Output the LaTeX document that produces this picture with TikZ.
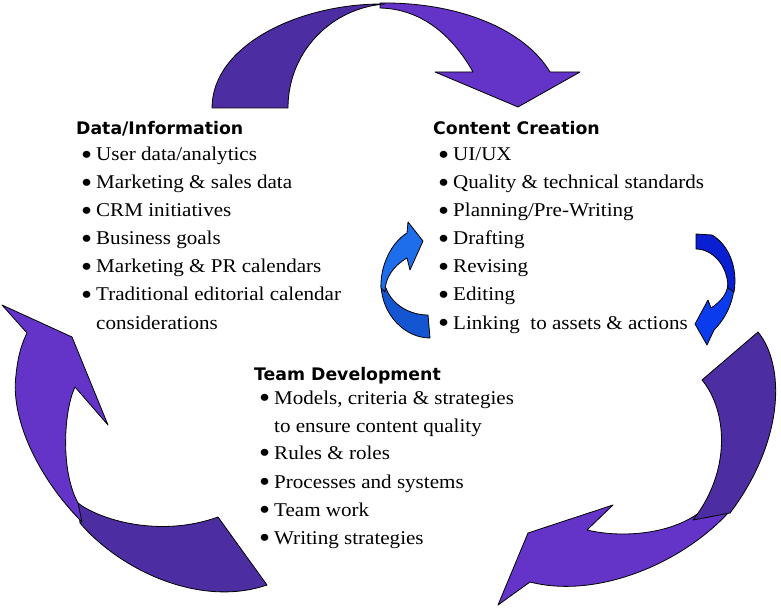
\documentclass[tikz,border=0pt]{standalone}
\usepackage{fontspec}
\setmainfont{Liberation Serif}[FakeStretch=1.08]
\newfontfamily\titlefont{DejaVu Sans}
\definecolor{purpleA}{HTML}{6434C8}
\definecolor{purpleB}{HTML}{4D2DA2}
\definecolor{blueA}{HTML}{1E6EEB}
\definecolor{blueB}{HTML}{1456D2}
\definecolor{blueC}{HTML}{0A1ED2}
\definecolor{blueD}{HTML}{0A3CEE}
\newcommand\bulbox{\makebox[15pt][l]{\raisebox{-3.3pt}{\scalebox{1.5}{\textbullet}}}}
\tikzset{
  bodytext/.style={anchor=base west, inner sep=0pt, font=\fontsize{19.5}{22}\selectfont},
  titletext/.style={anchor=base west, inner sep=0pt, font=\titlefont\bfseries\fontsize{17.3}{20}\selectfont},
  arrowpart/.style={draw=black, line width=0.8pt, line join=round}
}
\begin{document}
\begin{tikzpicture}[x=1pt,y=-1pt]
\useasboundingbox (0,0) rectangle (781,609);
% ---------- top arrow ----------
\fill[purpleA, arrowpart] (380,3) .. controls (460,2) and (525,30) .. (550,72) -- (580,72) -- (518,107) -- (435,72) -- (473,72) .. controls (455,40) and (425,9) .. (380,8) -- cycle;
\fill[purpleB, arrowpart] (212,108) .. controls (212,45) and (300,3) .. (385,4) .. controls (331,8) and (288,52) .. (288,108) -- cycle;
% ---------- left arrow ----------
\fill[purpleB, arrowpart] (78,503) .. controls (100,520) and (160,538) .. (218,517) -- (267,585) .. controls (200,608) and (120,570) .. (80,523) -- cycle;
\fill[purpleA, arrowpart] (27,333) -- (2,305) -- (72,337) -- (108,425) -- (75,387) .. controls (64,410) and (60,470) .. (78,503) -- (82,522) .. controls (40,480) and (10,420) .. (16,375) .. controls (18,355) and (22,343) .. cycle;
% ---------- right arrow ----------
\fill[purpleA, arrowpart] (498,605) -- (528,533) -- (613,505) -- (587,530) .. controls (620,538) and (670,535) .. (700,512) -- (735,505) .. controls (690,560) and (600,600) .. (530,582) -- cycle;
\fill[purpleB, arrowpart] (702,380) -- (758,332) .. controls (785,365) and (785,440) .. (730,513) -- (693,520) .. controls (732,470) and (727,410) .. cycle;
% ---------- small left arrow ----------
\fill[blueB, arrowpart] (381,285) .. controls (382,315) and (405,338) .. (430,338) -- (428,315) .. controls (410,315) and (392,305) .. (386,288) -- cycle;
\fill[blueA, arrowpart] (407,233) -- (408,222) -- (423,241) -- (410,270) -- (407,258) .. controls (393,266) and (385,278) .. (385,292) -- (381,288) .. controls (380,265) and (392,242) .. cycle;
% ---------- small right arrow ----------
\fill[blueD, arrowpart] (734,288) .. controls (732,308) and (722,322) .. (714,330) -- (707,345) -- (695,324) -- (708,300) -- (711,308) .. controls (720,302) and (727,295) .. (728,284) -- cycle;
\fill[blueC, arrowpart] (696,234) -- (712,235) .. controls (729,245) and (738,268) .. (734,292) -- (728,288) .. controls (728,265) and (712,249) .. (696,249) -- cycle;
% ---------- Data/Information ----------
\node[titletext] (dt) at (76,135) {Data/Information};
\node[bodytext] (d1) at (81,161) {\bulbox User data/analytics};
\node[bodytext] (d2) at (81,189) {\bulbox Marketing \& sales data};
\node[bodytext] (d3) at (81,217) {\bulbox CRM initiatives};
\node[bodytext] (d4) at (81,245) {\bulbox Business goals};
\node[bodytext] (d5) at (81,273) {\bulbox Marketing \& PR calendars};
\node[bodytext] (d6) at (81,301) {\bulbox Traditional editorial calendar};
\node[bodytext] (d7) at (96,329) {considerations};
% ---------- Content Creation ----------
\node[titletext] (ct) at (433,135) {Content Creation};
\node[bodytext] (c1) at (438,161) {\bulbox UI/UX};
\node[bodytext] (c2) at (438,189) {\bulbox Quality \& technical standards};
\node[bodytext] (c3) at (438,217) {\bulbox Planning/Pre-Writing};
\node[bodytext] (c4) at (438,245) {\bulbox Drafting};
\node[bodytext] (c5) at (438,273) {\bulbox Revising};
\node[bodytext] (c6) at (438,301) {\bulbox Editing};
\node[bodytext] (c7) at (438,329) {\bulbox Linking\ \ to assets \& actions};
% ---------- Team Development ----------
\node[titletext] (tt) at (254,380) {Team Development};
\node[bodytext] (t1) at (259,404) {\bulbox Models, criteria \& strategies};
\node[bodytext] (t2) at (274,432) {to ensure content quality};
\node[bodytext] (t3) at (259,459) {\bulbox Rules \& roles};
\node[bodytext] (t4) at (259,488) {\bulbox Processes and systems};
\node[bodytext] (t5) at (259,516) {\bulbox Team work};
\node[bodytext] (t6) at (259,544) {\bulbox Writing strategies};
\end{tikzpicture}
\end{document}
